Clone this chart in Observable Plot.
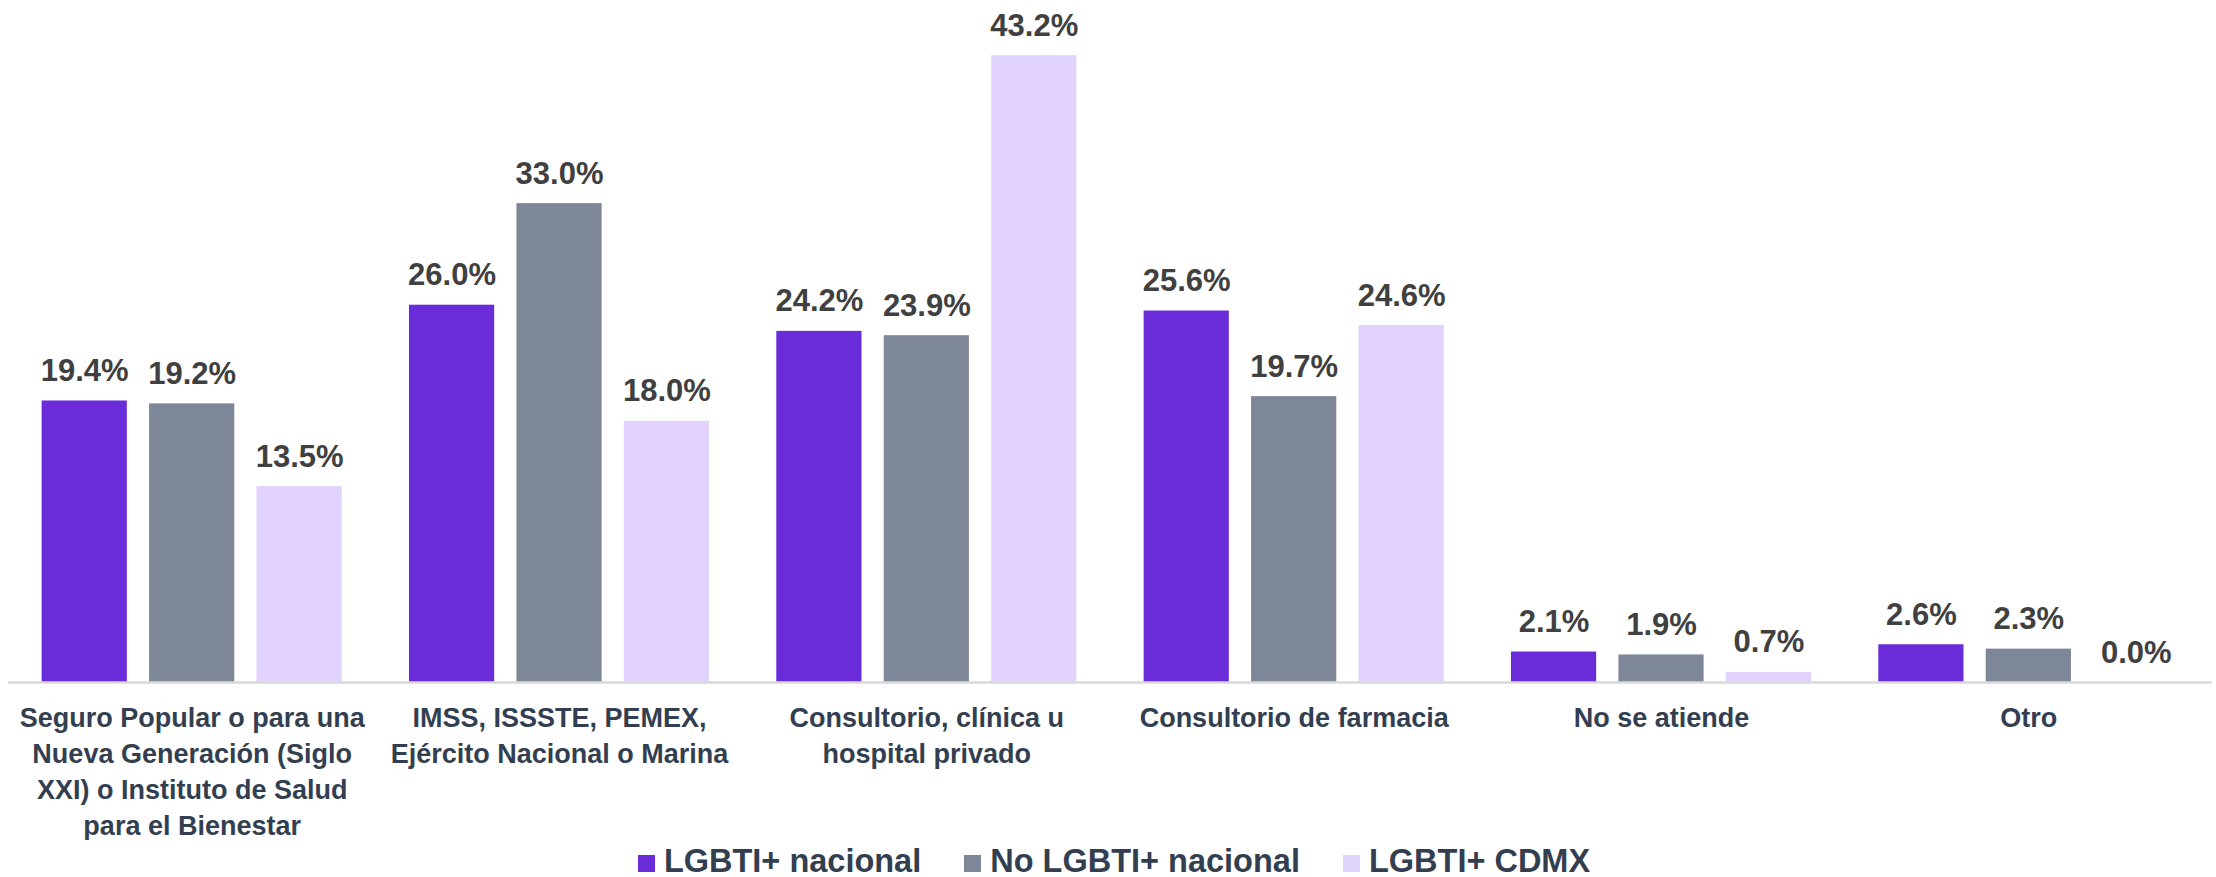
<!DOCTYPE html>
<html>
<head>
<meta charset="utf-8">
<script src="https://cdn.jsdelivr.net/npm/d3@7"></script>
<script src="https://cdn.jsdelivr.net/npm/@observablehq/plot@0.6"></script>
<style>
  html, body { margin: 0; padding: 0; background: #ffffff; }
  body { width: 2216px; height: 877px; position: relative; overflow: hidden; font-family: "Liberation Sans", Arial, sans-serif; }
  #legend { position: absolute; left: 12px; top: 846px; width: 2204px; height: 31px; display: flex; justify-content: center; align-items: baseline; font-size: 32.5px; line-height: 31px; font-weight: bold; color: #333f50; }
  #legend .item { display: inline-flex; align-items: baseline; margin: 0 21.5px; white-space: nowrap; }
  #legend .sw { display: inline-block; width: 17px; height: 17px; margin-right: 9px; }
</style>
</head>
<body>
<div id="chart"></div>
<div id="legend"></div>
<script>
const categories = [
  "Seguro Popular o para una Nueva Generación (Siglo XXI) o Instituto de Salud para el Bienestar",
  "IMSS, ISSSTE, PEMEX, Ejército Nacional o Marina",
  "Consultorio, clínica u hospital privado",
  "Consultorio de farmacia",
  "No se atiende",
  "Otro"
];
const tickLabels = [
  "Seguro Popular o para una\nNueva Generación (Siglo\nXXI) o Instituto de Salud\npara el Bienestar",
  "IMSS, ISSSTE, PEMEX,\nEjército Nacional o Marina",
  "Consultorio, clínica u\nhospital privado",
  "Consultorio de farmacia",
  "No se atiende",
  "Otro"
];
const series = ["LGBTI+ nacional", "No LGBTI+ nacional", "LGBTI+ CDMX"];
const colors = ["#6a2bd8", "#7e8798", "#e1d3fe"];
const lgbtiNacional   = [19.4, 26.0, 24.2, 25.6, 2.1, 2.6];
const noLgbtiNacional = [19.2, 33.0, 23.9, 19.7, 1.9, 2.3];
const lgbtiCdmx       = [13.5, 18.0, 43.2, 24.6, 0.7, 0.0];

const seriesValues = [lgbtiNacional, noLgbtiNacional, lgbtiCdmx];
const data = [];
categories.forEach((c, i) => {
  series.forEach((s, j) => {
    data.push({category: c, series: s, value: seriesValues[j][i]});
  });
});
const labelOf = new Map(categories.map((c, i) => [c, tickLabels[i]]));

const chart = Plot.plot({
  width: 2216,
  height: 840,
  marginLeft: 8,
  marginRight: 4,
  marginTop: 29,
  marginBottom: 158,
  style: {fontFamily: "'Liberation Sans', Arial, sans-serif", background: "#ffffff"},
  fx: {domain: categories, padding: 0, round: false},
  x: {domain: series, paddingInner: 0.207, paddingOuter: 0.313, round: false, axis: null},
  y: {domain: [0, 45], axis: null},
  color: {domain: series, range: colors},
  marks: [
    Plot.barY(data, {fx: "category", x: "series", y: "value", fill: "series"}),
    Plot.ruleY([0], {stroke: "#d9d9d9", strokeWidth: 2.5}),
    Plot.text(data, {
      fx: "category", x: "series", y: "value",
      text: d => d.value.toFixed(1) + "%",
      dy: -20, lineAnchor: "bottom",
      fontSize: 31, fontWeight: "bold", fill: "#404040"
    }),
    Plot.axisFx({
      anchor: "bottom", tickSize: 0, tickPadding: 19, label: null,
      tickFormat: c => labelOf.get(c),
      fontSize: 27, fontWeight: "bold", fill: "#333f50", lineHeight: 1.33
    })
  ]
});
document.getElementById("chart").appendChild(chart);

const legend = document.getElementById("legend");
series.forEach((s, j) => {
  const item = document.createElement("span");
  item.className = "item";
  const sw = document.createElement("span");
  sw.className = "sw";
  sw.style.background = colors[j];
  const t = document.createElement("span");
  t.textContent = s;
  item.appendChild(sw);
  item.appendChild(t);
  legend.appendChild(item);
});
</script>
</body>
</html>
